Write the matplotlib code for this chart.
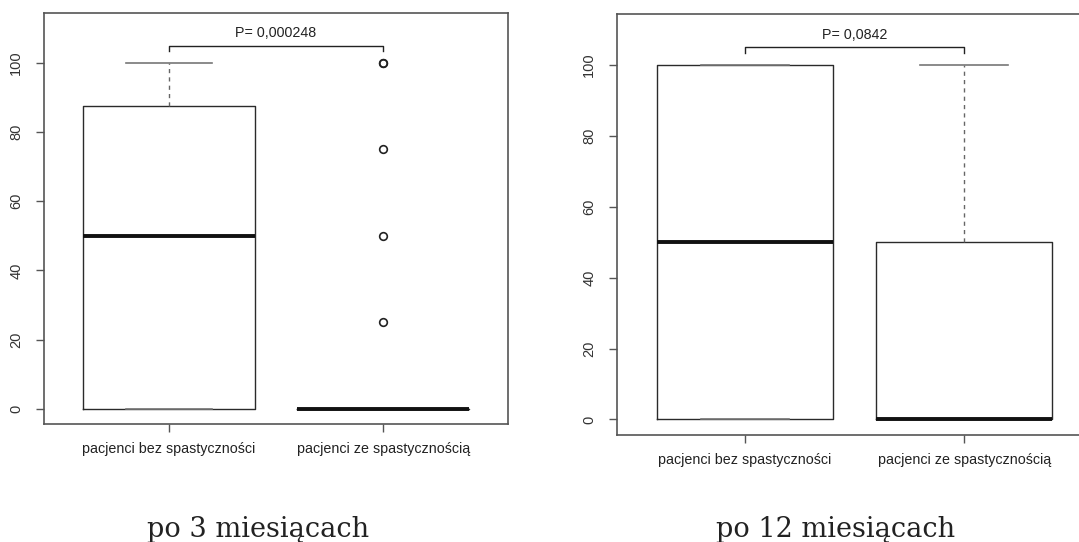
import matplotlib
matplotlib.use("Agg")
import matplotlib.pyplot as plt

# dane (skala 0-100)
groups = ["pacjenci bez spastyczności", "pacjenci ze spastycznością"]

# po 3 miesiacach
q1_3 = [0, 0]
med_3 = [50, 0]
q3_3 = [87.5, 0]
lo_3 = [0, 0]
hi_3 = [100, 0]
out_3 = [[], [25, 50, 75, 100, 100]]
p_3 = "P= 0,000248"

# po 12 miesiacach
q1_12 = [0, 0]
med_12 = [50, 0]
q3_12 = [100, 50]
lo_12 = [0, 0]
hi_12 = [100, 100]
out_12 = [[], []]
p_12 = "P= 0,0842"

titles = ["po 3 miesiącach", "po 12 miesiącach"]

W, H = 1079, 542
fig = plt.figure(figsize=(W / 100, H / 100), dpi=100)
fig.patch.set_facecolor("white")

def px_axes(left, top, right, bottom):
    return fig.add_axes([left / W, (H - bottom) / H, (right - left) / W, (bottom - top) / H])

ax1 = px_axes(44, 13, 508, 424)
ax2 = px_axes(617, 14, 1092, 435)


def draw(ax, q1, med, q3, lo, hi, outl, ptxt):
    stats = []
    for i in range(len(groups)):
        stats.append({"q1": q1[i], "med": med[i], "q3": q3[i],
                      "whislo": lo[i], "whishi": hi[i], "fliers": outl[i],
                      "label": groups[i]})
    ax.bxp(stats, positions=[1, 2], widths=0.8, capwidths=0.4,
           showfliers=True,
           boxprops=dict(color="#2a2a2a", linewidth=1.0),
           whiskerprops=dict(color="#666666", linewidth=1.0, linestyle=(0, (3, 3))),
           capprops=dict(color="#777777", linewidth=1.2),
           medianprops=dict(color="#111111", linewidth=2.8, solid_capstyle="butt"),
           flierprops=dict(marker="o", markersize=5.5, markerfacecolor="none",
                           markeredgecolor="#222222", markeredgewidth=1.2))
    # klamra z wartoscia p
    ax.plot([1, 1, 2, 2], [103.5, 105, 105, 103.5], color="#222222", lw=1.0)
    ax.text(1.5, 108.5, ptxt, ha="center", va="center", fontsize=10.3,
            family="Liberation Sans", color="#222222")
    ax.set_xlim(0.42, 2.58)
    ax.set_ylim(-4.4, 114.4)
    ax.set_yticks([0, 20, 40, 60, 80, 100])
    ax.set_xticks([1, 2])
    ax.set_xticklabels(groups, family="Liberation Sans", fontsize=10.3, color="#222222")
    for lab in ax.get_yticklabels():
        lab.set_rotation(90)
        lab.set_va("center")
        lab.set_family("Liberation Sans")
        lab.set_fontsize(10.5)
        lab.set_color("#333333")
    ax.tick_params(axis="both", length=6, width=1.0, color="#555555")
    ax.tick_params(axis="y", pad=9)
    ax.tick_params(axis="x", pad=7)
    for sp in ax.spines.values():
        sp.set_color("#555555")
        sp.set_linewidth(1.2)


draw(ax1, q1_3, med_3, q3_3, lo_3, hi_3, out_3, p_3)
draw(ax2, q1_12, med_12, q3_12, lo_12, hi_12, out_12, p_12)

fig.text(258 / W, (H - 537) / H, titles[0], ha="center", va="baseline",
         family="DejaVu Serif", fontsize=19.5, color="#222222")
fig.text(836 / W, (H - 537) / H, titles[1], ha="center", va="baseline",
         family="DejaVu Serif", fontsize=19.5, color="#222222")

fig.savefig("out.png", dpi=100, facecolor="white")
